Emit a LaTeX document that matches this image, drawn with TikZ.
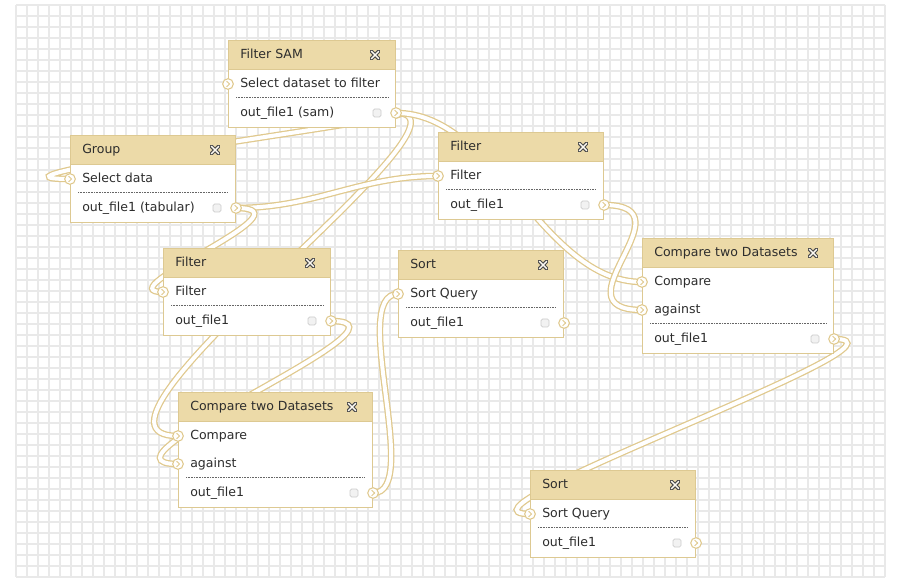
\documentclass[tikz,border=0pt]{standalone}
\usepackage{fontspec}
\setmainfont{DejaVu Sans}
\usetikzlibrary{calc}
\definecolor{wfHead}{RGB}{236,218,168}
\definecolor{wfEdge}{RGB}{221,201,146}
\definecolor{wfWire}{RGB}{224,201,142}
\definecolor{wfText}{RGB}{45,45,45}
\definecolor{wfGrid}{RGB}{233,233,233}
\definecolor{wfIcon}{RGB}{75,75,75}
\pgfdeclarelayer{grid}
\pgfdeclarelayer{wires}
\pgfsetlayers{grid,wires,main}
\tikzset{
    base/.style={font=\fontsize{9.4}{11}\selectfont, text=wfText},
    wfbody/.style={rectangle, draw=wfEdge, line width=0.8pt, fill=white, inner sep=0},
    wfhead/.style={rectangle, draw=wfEdge, line width=0.8pt, fill=wfHead, inner sep=0,
                   minimum height=21.75pt},
    wftitle/.style={base, inner sep=0, text height=6.8pt, text depth=2pt},
    wflabel/.style={base, inner sep=0, text height=6.8pt, text depth=2pt},
    terminal/.style={circle, draw=wfWire, line width=0.8pt, fill=white, inner sep=0,
                     minimum size=8pt,
                     path picture={\draw[wfWire, line width=0.7pt, line cap=round, line join=round]
                       ([shift={(-1pt,2pt)}]path picture bounding box.center) --
                       ([shift={(1.2pt,0pt)}]path picture bounding box.center) --
                       ([shift={(-1pt,-2pt)}]path picture bounding box.center);}},
    handle/.style={rectangle, rounded corners=1.2pt, draw=black!20, fill=black!5,
                   line width=0.5pt, minimum size=6pt, inner sep=0},
    wfsep/.style={draw=black!60, line width=0.5pt, dash pattern=on 0.6pt off 0.6pt},
    wire/.style={draw=wfWire, line width=0.95pt, double=white, double distance=3pt},
    gridline/.style={draw=wfGrid, line width=1.5pt}
}
% close icon in a header
\newcommand{\wfclose}[1]{%
  \begin{scope}[shift={#1}]
    \draw[wfIcon, line width=2.8pt, line cap=round] (-3.6,-3.6) -- (3.6,3.6) (-3.6,3.6) -- (3.6,-3.6);
    \draw[white!85!wfHead, line width=1.1pt, line cap=round] (-3.6,-3.6) -- (3.6,3.6) (-3.6,3.6) -- (3.6,-3.6);
  \end{scope}}
% box: name, x, y, width, title, number of inputs
\newcommand{\wfbox}[6]{%
  \node[wfbody, minimum width=#4*0.75pt, minimum height={(59+28*#6)*0.75pt}, anchor=north west] (#1) at (#2,#3) {};
  \node[wfhead, minimum width=#4*0.75pt, anchor=north west] (#1-head) at (#2,#3) {};
  \node[wftitle, anchor=west] (#1-title) at ($(#1-head.west)+(12,0)$) {#5};
  \wfclose{($(#1-head.east)+(-21,0)$)}
  \draw[wfsep] ($(#1.north west)+(8,{29+28*#6})$) -- ($(#1.north east)+(-8,{29+28*#6})$);
}
% input: box, key, row, label
\newcommand{\wfin}[4]{%
  \node[terminal] (#1-#2) at ($(#1.north west)+(0,{44+28*(#3-1)})$) {};
  \node[wflabel, anchor=west] (#1-#2-lab) at ($(#1.north west)+(12,{44+28*(#3-1)})$) {#4};
}
% output: box, key, number of inputs, label
\newcommand{\wfout}[4]{%
  \node[terminal] (#1-#2) at ($(#1.north east)+(0,{45+28*#3})$) {};
  \node[handle] (#1-#2-drag) at ($(#1.north east)+(-19,{45+28*#3})$) {};
  \node[wflabel, anchor=west] (#1-#2-lab) at ($(#1.north west)+(12,{45+28*#3})$) {#4};
}

\begin{document}
\begin{tikzpicture}[x=0.75pt, y=-0.75pt]
  \useasboundingbox (0,0) rectangle (899,584);
  % canvas grid
  \begin{pgfonlayer}{grid}
    \fill[white] (0,0) rectangle (899,584);
    \foreach \i in {0,...,79} \draw[gridline] ({16+11*\i},5) -- ({16+11*\i},577);
    \foreach \j in {0,...,52} \draw[gridline] (16,{5+11*\j}) -- (885,{5+11*\j});
  \end{pgfonlayer}

  % Filter SAM
  \wfbox{sam}{228}{40}{167}{Filter SAM}{1}
  \wfin{sam}{in1}{1}{Select dataset to filter}
  \wfout{sam}{out}{1}{out\_file1 (sam)}

  % Group
  \wfbox{group}{70}{135}{165}{Group}{1}
  \wfin{group}{in1}{1}{Select data}
  \wfout{group}{out}{1}{out\_file1 (tabular)}

  % Filter (right)
  \wfbox{filtA}{438}{132}{165}{Filter}{1}
  \wfin{filtA}{in1}{1}{Filter}
  \wfout{filtA}{out}{1}{out\_file1}

  % Filter (left)
  \wfbox{filtB}{163}{248}{167}{Filter}{1}
  \wfin{filtB}{in1}{1}{Filter}
  \wfout{filtB}{out}{1}{out\_file1}

  % Sort (middle)
  \wfbox{sortA}{398}{250}{165}{Sort}{1}
  \wfin{sortA}{in1}{1}{Sort Query}
  \wfout{sortA}{out}{1}{out\_file1}

  % Compare two Datasets (right)
  \wfbox{cmpA}{642}{238}{191}{Compare two Datasets}{2}
  \wfin{cmpA}{in1}{1}{Compare}
  \wfin{cmpA}{in2}{2}{against}
  \wfout{cmpA}{out}{2}{out\_file1}

  % Compare two Datasets (bottom)
  \wfbox{cmpB}{178}{392}{194}{Compare two Datasets}{2}
  \wfin{cmpB}{in1}{1}{Compare}
  \wfin{cmpB}{in2}{2}{against}
  \wfout{cmpB}{out}{2}{out\_file1}

  % Sort (bottom)
  \wfbox{sortB}{530}{470}{165}{Sort}{1}
  \wfin{sortB}{in1}{1}{Sort Query}
  \wfout{sortB}{out}{1}{out\_file1}

  % connections
  \begin{pgfonlayer}{wires}
    \draw[wire] (sam-out.center) .. controls +(60,0) and +(-130,0) .. (group-in1.center);
    \draw[wire] (sam-out.center) .. controls +(100,0) and +(-130,0) .. (cmpB-in1.center);
    \draw[wire] (sam-out.center) .. controls +(100,0) and +(-100,0) .. (cmpA-in1.center);
    \draw[wire] (group-out.center) .. controls +(80,0) and +(-80,0) .. (filtA-in1.center);
    \draw[wire] (group-out.center) .. controls +(80,0) and +(-60,0) .. (filtB-in1.center);
    \draw[wire] (filtA-out.center) .. controls +(90,0) and +(-90,0) .. (cmpA-in2.center);
    \draw[wire] (filtB-out.center) .. controls +(100,0) and +(-100,0) .. (cmpB-in2.center);
    \draw[wire] (cmpB-out.center) .. controls +(50,0) and +(-50,0) .. (sortA-in1.center);
    \draw[wire] (cmpA-out.center) .. controls +(100,0) and +(-100,0) .. (sortB-in1.center);
  \end{pgfonlayer}
\end{tikzpicture}
\end{document}
